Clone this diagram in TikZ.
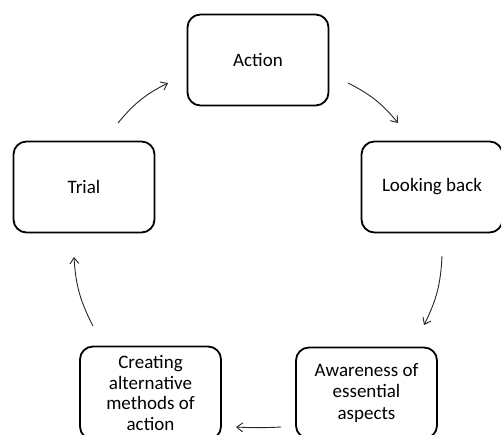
\documentclass[tikz,border=0pt]{standalone}
\usepackage{fontspec}
\setmainfont{Carlito}
\usetikzlibrary{arrows.meta}
\begin{document}
\begin{tikzpicture}[x=1pt,y=-1pt,
  box/.style={draw=black, line width=1.8pt, rounded corners=13pt, minimum width=141pt, minimum height=91pt, align=center, font=\fontsize{19}{21.6}\selectfont, inner sep=0pt},
  conn/.style={draw=black!85, line width=0.9pt, -{Straight Barb[length=6pt,width=9pt]}}]
\useasboundingbox (0,0) rectangle (501,435);
\clip (0,0) rectangle (501,435);
\node[box] (action) at (258,60) {Action};
\node[box] (look) at (432,187) {Looking back};
\node[box] (aware) at (366.5,393) {Awareness of\\essential\\aspects};
\node[box, minimum height=93pt, font=\fontsize{19}{20.6}\selectfont] (create) at (150.5,393) {Creating\\alternative\\methods of\\action};
\node[box] (trial) at (84,187) {Trial};
\coordinate (a1) at (118,123); \coordinate (a2) at (168,83);
\coordinate (b1) at (348,83); \coordinate (b2) at (398,123);
\coordinate (c1) at (442,256); \coordinate (c2) at (424,325);
\coordinate (d1) at (281,427); \coordinate (d2) at (236,427);
\coordinate (e1) at (93,326); \coordinate (e2) at (74,257);
\draw[conn] (a1) to[bend left=12] (a2);
\draw[conn] (b1) to[bend left=12] (b2);
\draw[conn] (c1) to[bend left=12] (c2);
\draw[conn] (d1) to[bend left=3] (d2);
\draw[conn] (e1) to[bend left=12] (e2);
\end{tikzpicture}
\end{document}
